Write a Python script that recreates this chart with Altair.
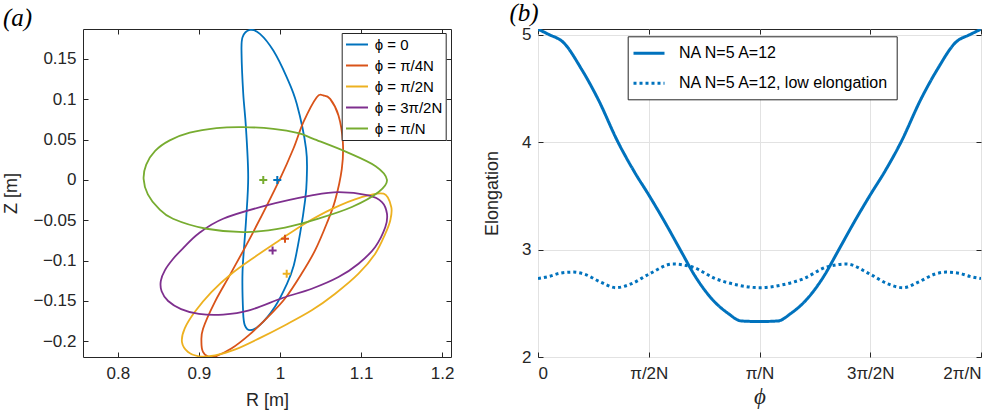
import altair as alt
import pandas as pd

FONT = "Liberation Sans"
SERIF = "Liberation Serif"
INK = "#262626"

# ---------------- panel (a): cross-sections (R, Z) ----------------
phase_labels = ["ϕ = 0", "ϕ = π/4N", "ϕ = π/2N", "ϕ = 3π/2N", "ϕ = π/N"]
phase_colors = ["#0072BD", "#D95319", "#EDB120", "#7E2F8E", "#77AC30"]

blue_R = [0.9629, 0.9753, 0.9918, 1.0083, 1.0207, 1.0322, 1.0330, 1.0310, 1.0248, 1.0170,
          1.0080, 0.9938, 0.9750, 0.9630, 0.9567, 0.9546, 0.9538, 0.9580, 0.9608, 0.9580,
          0.9547, 0.9526, 0.9538]
blue_Z = [0.1859, 0.1810, 0.1603, 0.1273, 0.0943, 0.0386, 0.0000, -0.0254, -0.0666, -0.1060,
          -0.1300, -0.1570, -0.1800, -0.1862, -0.1802, -0.1650, -0.1142, -0.0522, 0.0035, 0.0654,
          0.1067, 0.1562, 0.1768]

orange_R = [1.0536, 1.0619, 1.0722, 1.0776, 1.0763, 1.0680, 1.0577, 1.0433, 1.0268, 1.0062,
            0.9850, 0.9620, 0.9400, 0.9220, 0.9120, 0.9050, 0.9031, 0.9051, 0.9196, 0.9402,
            0.9670, 1.0000, 1.0165, 1.0289, 1.0454]
orange_Z = [0.1046, 0.1004, 0.0799, 0.0468, 0.0138, -0.0254, -0.0540, -0.0873, -0.1160, -0.1470,
            -0.1700, -0.1920, -0.2090, -0.2180, -0.2192, -0.2130, -0.2009, -0.1843, -0.1513, -0.1142,
            -0.0646, 0.0014, 0.0386, 0.0716, 0.1025]

yellow_R = [1.1279, 1.1373, 1.1361, 1.1300, 1.1175, 1.0969, 1.0681, 1.0392, 1.0062, 0.9750,
            0.9450, 0.9200, 0.9000, 0.8866, 0.8791, 0.8824, 0.8948, 0.9154, 0.9402, 0.9680,
            0.9990, 1.0300, 1.0650, 1.1000]
yellow_Z = [-0.0171, -0.0336, -0.0500, -0.0666, -0.0914, -0.1162, -0.1410, -0.1616, -0.1800, -0.1960,
            -0.2100, -0.2175, -0.2185, -0.2132, -0.2009, -0.1843, -0.1637, -0.1390, -0.1162, -0.0960,
            -0.0750, -0.0545, -0.0355, -0.0215]

purple_R = [1.0722, 1.1093, 1.1258, 1.1320, 1.1300, 1.1175, 1.0969, 1.0722, 1.0392, 1.0040,
            0.9608, 0.9300, 0.9000, 0.8780, 0.8620, 0.8540, 0.8530, 0.8580, 0.8680, 0.8800,
            0.9000, 0.9299, 0.9835, 1.0392]
purple_Z = [-0.0150, -0.0192, -0.0274, -0.0419, -0.0584, -0.0830, -0.1038, -0.1203, -0.1348, -0.1460,
            -0.1620, -0.1668, -0.1660, -0.1600, -0.1500, -0.1380, -0.1250, -0.1120, -0.0980, -0.0850,
            -0.0660, -0.0481, -0.0316, -0.0192]

green_R = [0.8318, 0.8350, 0.8460, 0.8640, 0.8887, 0.9217, 0.9547, 0.9918, 1.0227, 1.0412,
           1.0825, 1.1180, 1.1320, 1.1217, 1.0887, 1.0474, 1.0062, 0.9588, 0.9093, 0.8680,
           0.8500, 0.8370]
green_Z = [0.0010, 0.0190, 0.0360, 0.0490, 0.0585, 0.0642, 0.0654, 0.0633, 0.0580, 0.0509,
           0.0344, 0.0170, 0.0000, -0.0150, -0.0336, -0.0480, -0.0590, -0.0646, -0.0605, -0.0481,
           -0.0350, -0.0180]

# magnetic axis positions (crosses)
cross_R = [0.9967, 1.0062, 1.0083, 0.9909, 0.9794]
cross_Z = [0.0000, -0.0729, -0.1162, -0.0873, 0.0000]

R_ticks = [0.8, 0.9, 1.0, 1.1, 1.2]
Z_ticks = [-0.2, -0.15, -0.1, -0.05, 0.0, 0.05, 0.1, 0.15]

# ---------------- panel (b): elongation vs phi (phi in units of pi/N) ----------------
phi_solid = [0, 0.05, 0.113, 0.196, 0.271, 0.361, 0.436, 0.501, 0.572, 0.647, 0.707, 0.783, 0.858,
             0.918, 1.0, 1.082, 1.142, 1.217, 1.293, 1.353, 1.428, 1.499, 1.564, 1.639, 1.729,
             1.804, 1.887, 1.95, 2.0]
elong_solid = [5.05, 5.0, 4.93, 4.68, 4.40, 4.0, 3.72, 3.505, 3.257, 2.98, 2.76, 2.545, 2.406,
               2.335, 2.33, 2.335, 2.406, 2.545, 2.76, 2.98, 3.257, 3.505, 3.72, 4.0, 4.40,
               4.68, 4.93, 5.0, 5.05]
phi_dot = [0, 0.05, 0.1, 0.157, 0.21, 0.28, 0.352, 0.42, 0.5, 0.608, 0.7, 0.8, 0.9, 1.0, 1.1,
           1.2, 1.3, 1.392, 1.5, 1.58, 1.648, 1.72, 1.79, 1.843, 1.9, 1.95, 2.0]
elong_dot = [2.73, 2.75, 2.78, 2.79, 2.77, 2.70, 2.645, 2.68, 2.77, 2.865, 2.835, 2.73, 2.67,
             2.645, 2.67, 2.73, 2.835, 2.865, 2.77, 2.68, 2.645, 2.70, 2.77, 2.79, 2.78, 2.75, 2.73]
case_labels = ["NA N=5 A=12", "NA N=5 A=12, low elongation"]

phi_ticks = [0, 0.5, 1, 1.5, 2]
phi_tick_labels = ["0", "π/2N", "π/N", "3π/2N", "2π/N"]
E_ticks = [2, 3, 4, 5]

# ---------------- tables ----------------
rows = []
for name, Rs, Zs in zip(phase_labels,
                        [blue_R, orange_R, yellow_R, purple_R, green_R],
                        [blue_Z, orange_Z, yellow_Z, purple_Z, green_Z]):
    for i, (r, z) in enumerate(zip(Rs, Zs)):
        rows.append({"phase": name, "idx": i, "R": r, "Z": z})
df_a = pd.DataFrame(rows)
df_c = pd.DataFrame({"phase": phase_labels, "R": cross_R, "Z": cross_Z})

rows = []
for i, (p, e) in enumerate(zip(phi_solid, elong_solid)):
    rows.append({"case": case_labels[0], "idx": i, "phi": p, "E": e})
for i, (p, e) in enumerate(zip(phi_dot, elong_dot)):
    rows.append({"case": case_labels[1], "idx": i, "phi": p, "E": e})
df_b = pd.DataFrame(rows)

LABEL_SIZE = 17
TITLE_SIZE = 18


def axis(orient, values, title=None, labelExpr=None, grid=False, main=True, **kw):
    opts = dict(orient=orient, values=values, grid=grid, gridColor="#e2e2e2", gridWidth=1,
                domain=False, ticks=True, tickSize=5, offset=-5, tickColor=INK, tickWidth=1)
    if main:
        opts.update(dict(labelColor=INK, labelFont=FONT, labelFontSize=LABEL_SIZE,
                         labelPadding=8 if orient == "bottom" else 7,
                         titleFont=FONT, titleFontSize=TITLE_SIZE, titleFontWeight="normal",
                         titleColor=INK, titlePadding=10 if orient == "bottom" else 12,
                         title=title))
        if labelExpr:
            opts["labelExpr"] = labelExpr
    else:
        opts.update(dict(labels=False, title=None))
    opts.update(kw)
    return alt.Axis(**opts)


# ---------------- panel (a) ----------------
xa = alt.Scale(domain=[0.757, 1.211], nice=False, zero=False)
ya = alt.Scale(domain=[-0.2194, 0.187], nice=False, zero=False)
cscale = alt.Scale(domain=phase_labels, range=phase_colors)

curves = alt.Chart(df_a).mark_line(interpolate="cardinal-closed", strokeWidth=1.8, clip=True).encode(
    x=alt.X("R:Q", scale=xa, axis=axis("bottom", R_ticks, "R [m]", "format(datum.value, '~g')")),
    y=alt.Y("Z:Q", scale=ya, axis=axis("left", Z_ticks, "Z [m]", "format(datum.value, '~g')")),
    color=alt.Color("phase:N", scale=cscale,
                    legend=alt.Legend(orient="none", legendX=258.7, legendY=4, title=None,
                                      strokeColor=INK, fillColor="white", padding=3,
                                      symbolType="M-0.96,0L1.97,0", symbolSize=225,
                                      symbolStrokeWidth=2,
                                      labelFont=FONT, labelFontSize=15, labelColor="black",
                                      labelLimit=400, rowPadding=4, labelOffset=13)),
    order="idx:Q",
)

crosses = alt.Chart(df_c).mark_point(shape="M-1,0L1,0M0,-1L0,1", size=64, filled=False,
                                      strokeWidth=2, opacity=1).encode(
    x=alt.X("R:Q", scale=xa, axis=None),
    y=alt.Y("Z:Q", scale=ya, axis=None),
    stroke=alt.Stroke("phase:N", scale=cscale, legend=None),
)

frame_a = alt.Chart(df_c).mark_point(opacity=0).encode(
    x=alt.X("R:Q", scale=xa, axis=axis("top", R_ticks, main=False)),
    y=alt.Y("Z:Q", scale=ya, axis=axis("right", Z_ticks, main=False)),
)

left = alt.layer(curves, crosses, frame_a).resolve_axis(x="independent", y="independent").properties(
    width=368, height=328,
    title=alt.TitleParams("(a)", anchor="start", font=SERIF, fontStyle="italic", fontSize=25,
                          fontWeight="normal", color="black", offset=-2),
)

# ---------------- panel (b) ----------------
xb = alt.Scale(domain=[0, 2], nice=False, zero=False)
yb = alt.Scale(domain=[2, 5.052], nice=False, zero=False)
label_expr = "[" + ",".join("'" + s + "'" for s in phi_tick_labels) + "][round(datum.value*2)]"

lines = alt.Chart(df_b).mark_line(interpolate="monotone", strokeWidth=3, color="#0072BD", clip=True).encode(
    x=alt.X("phi:Q", scale=xb, axis=axis("bottom", phi_ticks, "ϕ", label_expr, grid=True,
                                         titleFont=SERIF, titleFontStyle="italic", titleFontSize=23,
                                         titlePadding=4)),
    y=alt.Y("E:Q", scale=yb, axis=axis("left", E_ticks, "Elongation", grid=True, titlePadding=20)),
    strokeDash=alt.StrokeDash("case:N", scale=alt.Scale(domain=case_labels, range=[[1, 0], [3, 3]]),
                              legend=alt.Legend(orient="none", legendX=89.7, legendY=7.3, title=None,
                                                strokeColor=INK, fillColor="white", padding=7.5,
                                                symbolType="M-1.4,0L2.475,0", symbolSize=256,
                                                symbolStrokeWidth=3, symbolStrokeColor="#0072BD",
                                                labelFont=FONT, labelFontSize=16, labelColor="black",
                                                labelLimit=400, rowPadding=12, labelOffset=24.8)),
    detail="case:N",
    order="idx:Q",
)

frame_b = alt.Chart(df_b).mark_point(opacity=0).encode(
    x=alt.X("phi:Q", scale=xb, axis=axis("top", phi_ticks, main=False)),
    y=alt.Y("E:Q", scale=yb, axis=axis("right", E_ticks, main=False)),
)

right = alt.layer(lines, frame_b).resolve_axis(x="independent", y="independent").properties(
    width=443, height=328,
    title=alt.TitleParams("(b)", anchor="start", font=SERIF, fontStyle="italic", fontSize=25,
                          fontWeight="normal", color="black", offset=0, dx=26),
)

chart = alt.hconcat(left, right, spacing=28).resolve_legend(
    color="independent", strokeDash="independent"
).properties(
    padding={"left": 2, "top": 0, "right": 0, "bottom": 0},
    background="white",
).configure_view(stroke=INK, strokeWidth=1).configure_axis(
    titleFontSize=TITLE_SIZE, labelFontSize=LABEL_SIZE, titleFont=FONT, labelFont=FONT
)

chart.save("out.html", embed_options={"renderer": "svg", "actions": False})
